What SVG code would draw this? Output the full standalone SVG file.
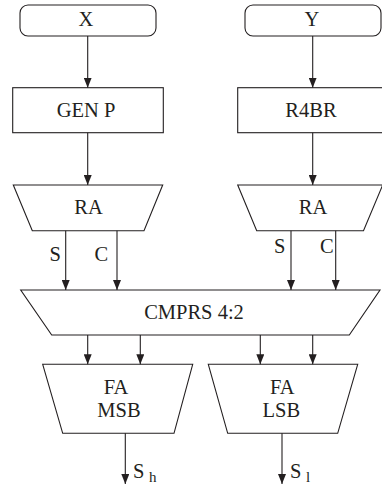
<svg xmlns="http://www.w3.org/2000/svg" width="382" height="487" viewBox="0 0 382 487">
<style>
.s{fill:#fff;stroke:#231f20;stroke-width:1.1}
text{font-family:'Liberation Serif','Times New Roman',Times,serif;font-size:20.5px;fill:#231f20}
.t{text-anchor:middle}
.sub{font-size:15px}
.c{stroke:#231f20;stroke-width:1.1;fill:none;marker-end:url(#b)}
</style>
<defs>
<marker id="b" markerUnits="userSpaceOnUse" markerWidth="10" markerHeight="8" refX="10" refY="4" orient="auto" viewBox="0 0 10 8">
<path d="M0,0 L10,4 L0,8 Z" fill="#231f20"/>
</marker>
</defs>
<g id="nX"><rect class="s" x="20" y="5" width="136" height="31" rx="8"/><text class="t" x="86" y="26">X</text></g>
<g id="nY"><rect class="s" x="245" y="5" width="136" height="31" rx="8"/><text class="t" x="312" y="26">Y</text></g>
<g id="nGEN"><rect class="s" x="12.7" y="87.7" width="150.6" height="45"/><text class="t" x="86" y="116.5">GEN P</text></g>
<g id="nR4BR"><rect class="s" x="237.7" y="87.7" width="150" height="45"/><text class="t" x="311" y="116.5">R4BR</text></g>
<g id="nRA1"><path class="s" d="M13.3,185 L162.7,185 L144,230.7 L32.3,230.7 Z"/><text class="t" x="88.5" y="214">RA</text></g>
<g id="nRA2"><path class="s" d="M237.7,185 L382.7,185 L363.5,230.7 L256.7,230.7 Z"/><text class="t" x="313" y="214">RA</text></g>
<g id="nCMP"><path class="s" d="M20.7,290 L380,290 L349.3,335 L51.7,335 Z"/><text class="t" x="194" y="319.3">CMPRS 4:2</text></g>
<g id="nMSB"><path class="s" d="M42.7,364.3 L192.7,364.3 L174,433.3 L62.7,433.3 Z"/><text class="t" x="116" y="394">FA</text><text class="t" x="119" y="416.7">MSB</text></g>
<g id="nLSB"><path class="s" d="M208.3,364.3 L357.7,364.3 L337.7,433.3 L227.7,433.3 Z"/><text class="t" x="282.3" y="394">FA</text><text class="t" x="281.3" y="416.7">LSB</text></g>
<g id="connectors">
<path class="c" d="M87.7,36 V87.7"/>
<path class="c" d="M312.7,36 V87.7"/>
<path class="c" d="M87.7,132.7 V185"/>
<path class="c" d="M312.7,132.7 V185"/>
<path class="c" d="M65.7,230.7 V290"/>
<path class="c" d="M117,230.7 V290"/>
<path class="c" d="M291,230.7 V290"/>
<path class="c" d="M335.7,230.7 V290"/>
<path class="c" d="M87.7,335 V364.3"/>
<path class="c" d="M140.3,335 V364.3"/>
<path class="c" d="M260.3,335 V364.3"/>
<path class="c" d="M312.7,335 V364.3"/>
<path class="c" d="M125.3,433.3 V484"/>
<path class="c" d="M282,433.3 V484"/>
<text x="49.5" y="260.7">S</text>
<text x="94.5" y="260.7">C</text>
<text x="274" y="253">S</text>
<text x="320" y="253">C</text>
<text x="133" y="477.5">S</text>
<text class="sub" x="149" y="482">h</text>
<text x="290" y="477.5">S</text>
<text class="sub" x="306" y="482">l</text>
</g>
</svg>
